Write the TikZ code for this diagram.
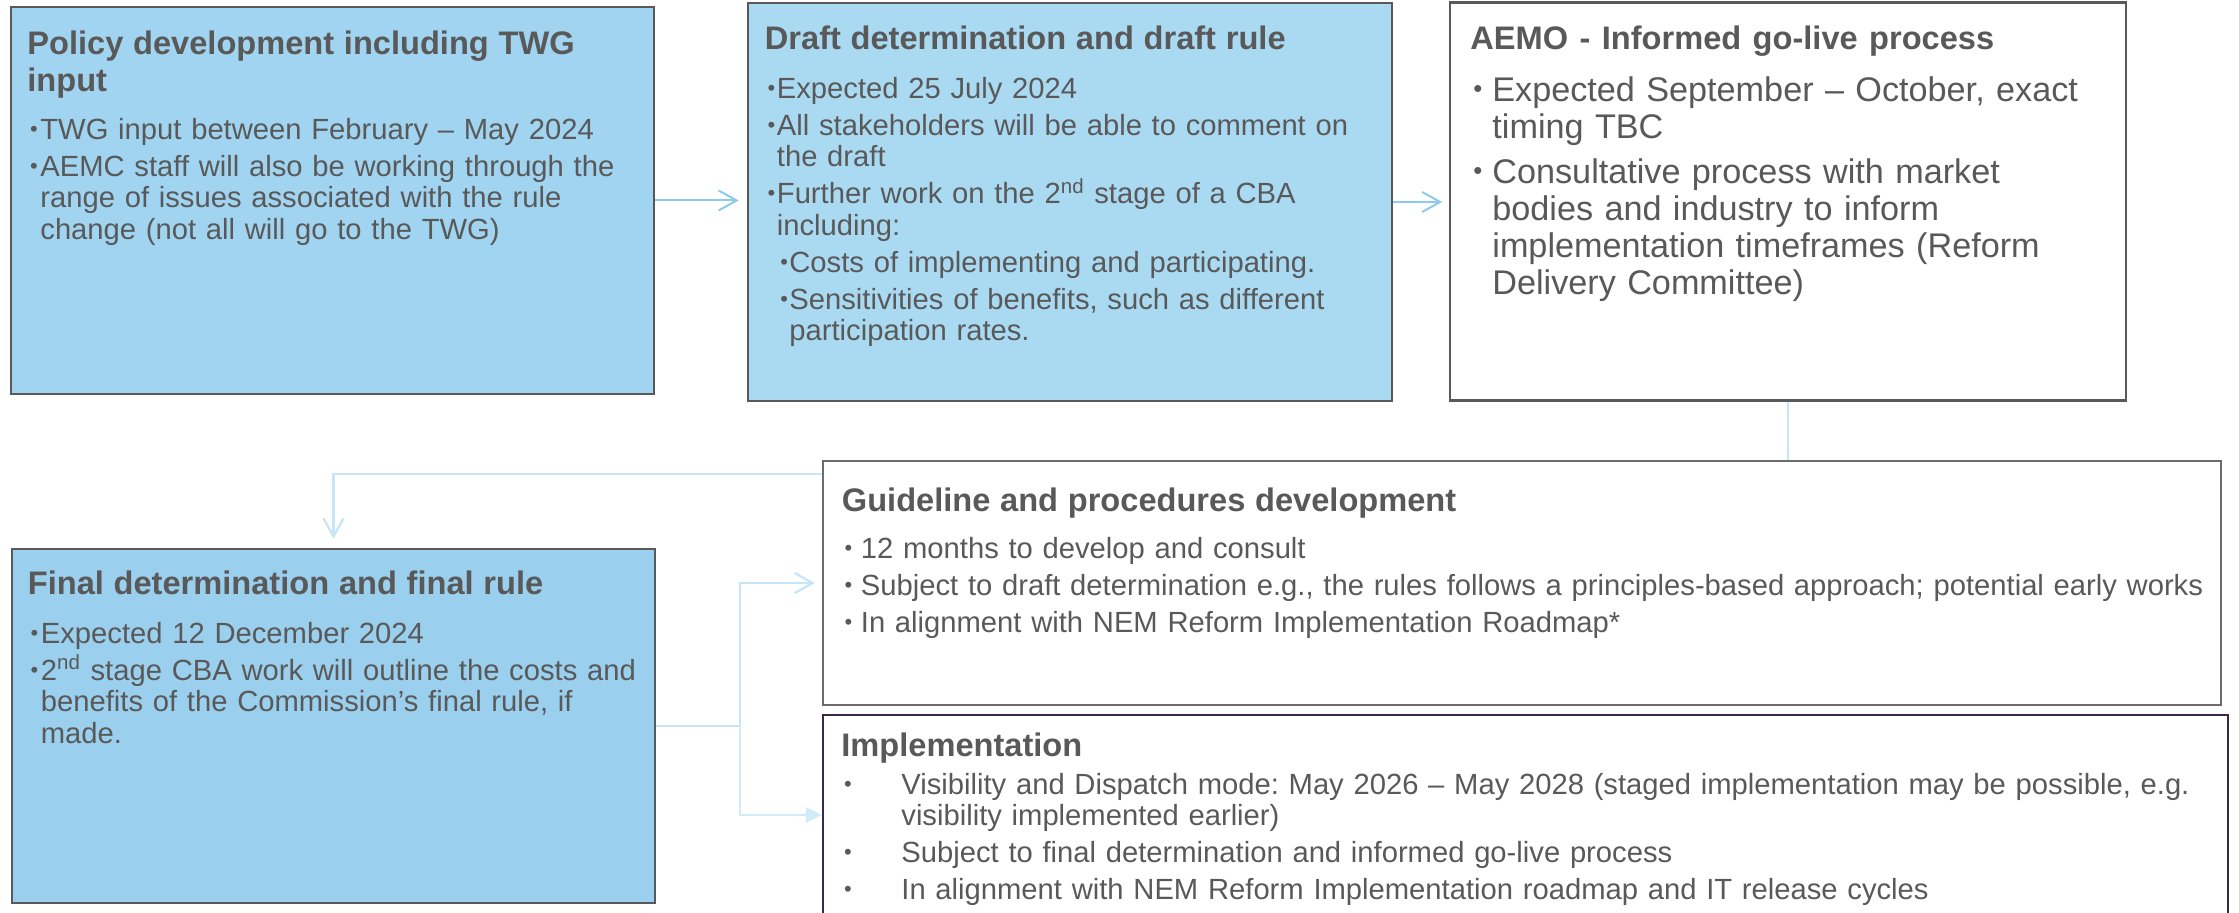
\documentclass[tikz,border=0pt]{standalone}
\usepackage{fontspec}
\usepackage{graphicx}
\setmainfont{Liberation Sans}
\usetikzlibrary{arrows.meta}
\frenchspacing

\definecolor{txtgray}{RGB}{89,89,89}
\definecolor{boxblue}{RGB}{160,212,240}
\definecolor{boxbluelt}{RGB}{170,218,242}
\definecolor{boxbluedk}{RGB}{154,207,237}
\definecolor{linkblue}{RGB}{140,203,234}
\definecolor{linkpale}{RGB}{198,229,246}
\definecolor{linkpaler}{RGB}{210,235,248}
\definecolor{implframe}{RGB}{58,40,72}

% heading of a box, and one bullet: [bullet offset]{text indent}{text}
\newcommand\hd[1]{{\fontsize{16.3}{18.5}\selectfont\bfseries #1\par}}
\newcommand\bdot{\raisebox{0.09em}{\scalebox{0.75}{•}}}
\newcommand\itm[3][1.3pt]{\par\hangindent=#2\hangafter=1\noindent\hspace*{#1}\makebox[\dimexpr#2-#1\relax][l]{\bdot}#3\par}
\newcommand\bodyfont{\fontsize{14.6}{15.75}\selectfont\setlength\parskip{2.75pt}\setlength\parindent{0pt}}
\newcommand\bigbodyfont{\fontsize{17.1}{18.5}\selectfont\setlength\parskip{4pt}\setlength\parindent{0pt}}

\tikzset{
  box/.style={draw=txtgray, line width=1.3pt, inner sep=0pt},
  txt/.style={anchor=north west, inner sep=0pt, text width=#1, align=left, text=txtgray, font=\bodyfont},
  link/.style={draw=linkblue, line width=1pt},
  pale/.style={draw=linkpale, line width=1.1pt},
  barb/.style={-{Straight Barb[length=9pt,width=10pt]}},
}

\begin{document}
\begin{tikzpicture}[x=0.5pt, y=-0.5pt, line join=miter]
  \useasboundingbox (0,0) rectangle (2239,913);

  % boxes
  \node[box, fill=boxblue, minimum width=321.5pt, minimum height=193.5pt] (policy) at (332.5,200.5) {};
  \node[box, fill=boxbluelt, minimum width=322pt, minimum height=199pt] (draft) at (1070,202) {};
  \node[box, fill=white, minimum width=338pt, minimum height=199pt] (aemo) at (1788,201.5) {};
  \node[box, fill=boxbluedk, minimum width=321.5pt, minimum height=177pt] (final) at (333.5,726) {};
  \node[box, draw=gray!85!black, line width=1pt, minimum width=699pt, minimum height=122pt] (guide) at (1522,583) {};
  \node[box, draw=implframe, line width=1pt, minimum width=702.5pt, minimum height=100pt] (impl) at (1525.5,815) {};

  % texts
  \node[txt=330pt] (policytxt) at (27,30) {%
    \hd{Policy development including TWG\newline input}\vspace{5.5pt}
    \itm{6.5pt}{TWG input between February – May 2024}
    \itm{6.5pt}{AEMC staff will also be working through the\newline range of issues associated with the rule\newline change (not all will go to the TWG)}};

  \node[txt=330pt] (drafttxt) at (764.5,25) {%
    \hd{Draft determination and draft rule}\vspace{6pt}
    \itm{6pt}{Expected 25 July 2024}
    \itm{6pt}{All stakeholders will be able to comment on\newline the draft}
    \itm{6pt}{Further work on the 2\textsuperscript{nd} stage of a CBA\newline including:}
    \itm[7.75pt]{12.25pt}{Costs of implementing and participating.}
    \itm[7.75pt]{12.25pt}{Sensitivities of benefits, such as different\newline participation rates.}};

  \node[txt=340pt, font=\bigbodyfont] (aemotxt) at (1470,25) {%
    \hd{AEMO - Informed go-live process}\vspace{3.5pt}
    \itm[1.5pt]{11pt}{Expected September – October, exact\newline timing TBC}
    \itm[1.5pt]{11pt}{Consultative process with market\newline bodies and industry to inform\newline implementation timeframes (Reform\newline Delivery Committee)}};

  \node[txt=330pt] (finaltxt) at (27.5,570) {%
    \hd{Final determination and final rule}\vspace{6pt}
    \itm{6.5pt}{Expected 12 December 2024}
    \itm{6.5pt}{2\textsuperscript{nd} stage CBA work will outline the costs and\newline benefits of the Commission’s final rule, if\newline made.}};

  \node[txt=720pt] (guidetxt) at (841.5,487) {%
    \hd{Guideline and procedures development}\vspace{5pt}
    \itm[1.35pt]{9.5pt}{12 months to develop and consult}
    \itm[1.35pt]{9.5pt}{Subject to draft determination e.g., the rules follows a principles-based approach; potential early works}
    \itm[1.35pt]{9.5pt}{In alignment with NEM Reform Implementation Roadmap*}};

  \node[txt=720pt] (impltxt) at (841,732) {%
    \hd{Implementation}\vspace{0.5pt}
    \itm[1.35pt]{30pt}{Visibility and Dispatch mode: May 2026 – May 2028 (staged implementation may be possible, e.g.\newline visibility implemented earlier)}
    \itm[1.35pt]{30pt}{Subject to final determination and informed go-live process}
    \itm[1.35pt]{30pt}{In alignment with NEM Reform Implementation roadmap and IT release cycles}};

  % connectors
  \draw[link, barb, shorten >=4pt] (policy.east) -- (policy.east -| draft.west);
  \draw[link, barb, shorten >=3.25pt] (draft.east) -- (draft.east -| aemo.west);
  \draw[pale] (aemo.south) -- (aemo.south |- guide.north);
  \coordinate (gin) at ([yshift=-7pt]guide.north west);
  \draw[pale, barb, shorten >=4.5pt] (gin) -| (final.north);
  \coordinate (fork) at ([xshift=42pt]final.east);
  \draw[pale, barb, shorten >=3.5pt] (final.east) -- (fork) |- (guide.west);
  \draw[draw=linkpaler, line width=1.1pt, -{Triangle[length=8pt,width=7.5pt]}] (fork) |- (impl.west);
\end{tikzpicture}
\end{document}
